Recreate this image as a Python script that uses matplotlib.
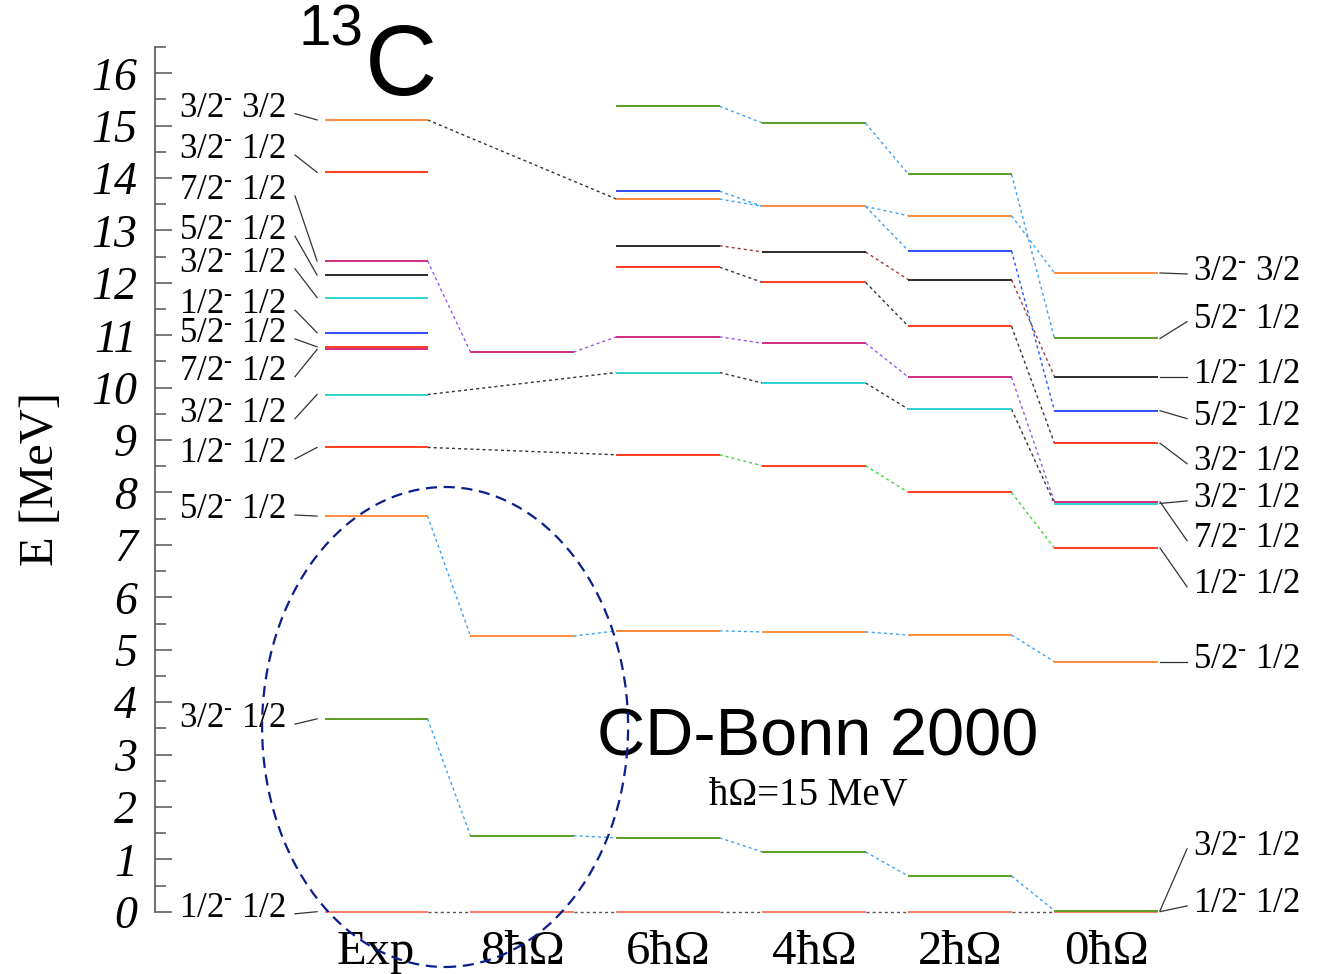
import numpy as np
import matplotlib
matplotlib.use('Agg')
import matplotlib.pyplot as plt
from matplotlib.patches import Ellipse

plt.rcParams['font.family'] = ['Liberation Serif', 'DejaVu Serif']
plt.rcParams['mathtext.fontset'] = 'custom'
plt.rcParams['mathtext.rm'] = 'Liberation Serif'
plt.rcParams['mathtext.it'] = 'Liberation Serif:italic'

# columns: experiment, then NCSM model spaces
columns = ['Exp', '8ħΩ', '6ħΩ', '4ħΩ', '2ħΩ', '0ħΩ']

# level energies [MeV] and colour keys, one pair of lists per column
exp_E = [15.11, 14.11, 12.42, 12.15, 11.72, 11.05, 10.78, 10.73, 9.87, 8.86, 7.55, 3.68, 0.0]
exp_c = ['orange', 'red', 'magenta', 'black', 'cyan', 'blue', 'red', 'magenta', 'cyan', 'red', 'orange', 'green', 'salmon']
n8_E = [10.68, 5.26, 1.45, 0.0]
n8_c = ['magenta', 'orange', 'green', 'salmon']
n6_E = [15.37, 13.75, 13.60, 12.71, 12.30, 10.97, 10.29, 8.72, 5.36, 1.41, 0.0]
n6_c = ['green', 'blue', 'orange', 'black', 'red', 'magenta', 'cyan', 'red', 'orange', 'green', 'salmon']
n4_E = [15.05, 13.46, 12.59, 12.01, 10.85, 10.09, 8.51, 5.34, 1.14, 0.0]
n4_c = ['green', 'orange', 'black', 'red', 'magenta', 'cyan', 'red', 'orange', 'green', 'salmon']
n2_E = [14.07, 13.28, 12.61, 12.06, 11.17, 10.20, 9.59, 8.00, 5.28, 0.68, 0.0]
n2_c = ['green', 'orange', 'blue', 'black', 'red', 'magenta', 'cyan', 'red', 'orange', 'green', 'salmon']
n0_E = [12.19, 10.94, 10.21, 9.56, 8.94, 7.82, 7.79, 6.94, 4.77, 0.02, 0.0]
n0_c = ['orange', 'green', 'black', 'blue', 'red', 'magenta', 'cyan', 'red', 'orange', 'green', 'salmon']

# J^pi and T labels for the experimental levels (left) and 0hw levels (right)
exp_J = ['3/2', '3/2', '7/2', '5/2', '3/2', '1/2', '5/2', '7/2', '3/2', '1/2', '5/2', '3/2', '1/2']
exp_T = ['3/2', '1/2', '1/2', '1/2', '1/2', '1/2', '1/2', '1/2', '1/2', '1/2', '1/2', '1/2', '1/2']
n0_J = ['3/2', '5/2', '1/2', '5/2', '3/2', '7/2', '3/2', '1/2', '5/2', '3/2', '1/2']
n0_T = ['3/2', '1/2', '1/2', '1/2', '1/2', '1/2', '1/2', '1/2', '1/2', '1/2', '1/2']

# correspondences: (column a, level a, column b, level b, link colour)
links = [
    (0, 0, 2, 2, 'k'), (0, 8, 2, 6, 'k'), (0, 9, 2, 7, 'k'),
    (0, 2, 1, 0, 'purple'), (0, 10, 1, 1, 'sky'), (0, 11, 1, 2, 'sky'), (0, 12, 1, 3, 'gray'),
    (1, 0, 2, 5, 'purple'), (1, 1, 2, 8, 'sky'), (1, 2, 2, 9, 'sky'), (1, 3, 2, 10, 'gray'),
    (2, 0, 3, 0, 'sky'), (2, 1, 3, 1, 'sky'), (2, 2, 3, 1, 'sky'), (2, 3, 3, 2, 'darkred'),
    (2, 4, 3, 3, 'k'), (2, 5, 3, 4, 'purple'), (2, 6, 3, 5, 'k'), (2, 7, 3, 6, 'green'),
    (2, 8, 3, 7, 'sky'), (2, 9, 3, 8, 'sky'), (2, 10, 3, 9, 'gray'),
    (3, 0, 4, 0, 'sky'), (3, 1, 4, 1, 'sky'), (3, 1, 4, 2, 'sky'), (3, 2, 4, 3, 'darkred'),
    (3, 3, 4, 4, 'k'), (3, 4, 4, 5, 'purple'), (3, 5, 4, 6, 'k'), (3, 6, 4, 7, 'green'),
    (3, 7, 4, 8, 'sky'), (3, 8, 4, 9, 'sky'), (3, 9, 4, 10, 'gray'),
    (4, 0, 5, 1, 'sky'), (4, 1, 5, 0, 'sky'), (4, 2, 5, 3, 'blue'), (4, 3, 5, 2, 'darkred'),
    (4, 4, 5, 4, 'k'), (4, 5, 5, 5, 'purple'), (4, 6, 5, 6, 'k'), (4, 7, 5, 7, 'green'),
    (4, 8, 5, 8, 'sky'), (4, 9, 5, 9, 'sky'), (4, 10, 5, 10, 'gray'),
]

# label baselines [MeV] (labels are spread out so they don't overlap)
exp_lab_y = [15.17, 14.38, 13.60, 12.83, 12.21, 11.42, 10.87, 10.15, 9.35, 8.58, 7.51, 3.52, -0.10]
n0_lab_y = [12.05, 11.14, 10.09, 9.29, 8.43, 6.96, 7.72, 6.08, 4.65, 1.08, -0.01]

yticks = list(range(17))

level_col = {'orange': '#ff8a3d', 'red': '#ff3b1f', 'green': '#5b9e22', 'blue': '#2f4dff',
             'black': '#2b2b2b', 'cyan': '#2ed3d3', 'magenta': '#d02e7e', 'salmon': '#ff7a66'}
link_col = {'sky': '#3fa3f5', 'purple': '#9a55ee', 'darkred': '#a03a3a', 'green': '#3dd63d',
            'k': '#333333', 'blue': '#2255ff', 'gray': '#555555'}

levels = [(exp_E, exp_c), (n8_E, n8_c), (n6_E, n6_c), (n4_E, n4_c), (n2_E, n2_c), (n0_E, n0_c)]
col_x = np.arange(len(columns))
hw = 0.353

fig = plt.figure(figsize=(13.18, 9.74), dpi=100)
ax = fig.add_axes([155 / 1318, 62.3 / 974, 1163 / 1318, 864.6 / 974])
ax.set_xlim(-1.514, 6.452)
ax.set_ylim(0, 16.5)

# levels, bottom first so upper ones sit on top
for x, (E, c) in zip(col_x, levels):
    for e, k in list(zip(E, c))[::-1]:
        ax.hlines(e, x - hw, x + hw, color=level_col[k], lw=1.4, clip_on=False, zorder=3)

for a, ia, b, ib, k in links:
    ax.plot([col_x[a] + hw, col_x[b] - hw], [levels[a][0][ia], levels[b][0][ib]],
            color=link_col[k], lw=1.0, ls=(0, (2.2, 2.2)), clip_on=False, zorder=2)

def jt(j, t):
    return j + r'$^{\text{-}}$ ' + t

# experimental labels with leader lines
for e, j, t, yl in zip(exp_E, exp_J, exp_T, exp_lab_y):
    ax.text(-0.616, yl, jt(j, t), fontsize=25, ha='right', va='baseline')
    ax.plot([-0.555, -0.404], [yl + 0.06, e], color='#333333', lw=0.9, clip_on=False)

# 0hw labels with leader lines
for e, j, t, yl in zip(n0_E, n0_J, n0_T, n0_lab_y):
    ax.text(5.596, yl, jt(j, t), fontsize=25, ha='left', va='baseline')
    ax.plot([5.37, 5.555], [e, yl + 0.12], color='#333333', lw=0.9, clip_on=False)

ax.add_patch(Ellipse((0.473, 3.525), 2.507, 9.16, fill=False, ec='#0b1f8c', lw=1.6,
                     ls=(0, (5, 3)), clip_on=False, zorder=4))

ax.text(3.027, 2.99, 'CD-Bonn 2000', family='Liberation Sans', fontsize=48, ha='center', va='baseline')
ax.text(2.959, 2.04, 'ħΩ=15 MeV', fontsize=28, ha='center', va='baseline')

for s in ['top', 'right', 'bottom']:
    ax.spines[s].set_visible(False)
ax.spines['left'].set_color('#555555')
ax.spines['left'].set_linewidth(1.2)

# y ticks; numbers written as italic texts next to the spine
ax.set_yticks(yticks, [''] * len(yticks))
ax.set_yticks(np.arange(0.5, 16.6, 1), minor=True)
ax.tick_params(axis='y', which='major', direction='in', length=12, width=1.1, color='#555555')
ax.tick_params(axis='y', which='minor', direction='in', length=8, width=1.1, color='#555555')
ytr = ax.get_yaxis_transform()
for v in yticks:
    ax.text(-0.0155, v, str(v), transform=ytr, family='Liberation Serif', style='italic',
            fontsize=33, ha='right', va='center_baseline', clip_on=False)

ax.set_xticks(col_x, columns)
ax.tick_params(axis='x', length=0, pad=13, labelsize=35)
ax.set_ylabel('E [MeV]', fontsize=35)
ax.yaxis.set_label_coords(-0.079, 0.5)

fig.text(365 / 1318, 1 - 95 / 974, 'C', family='Liberation Sans', fontsize=72, ha='left', va='baseline')
fig.text(363 / 1318, 1 - 45 / 974, '13', family='Liberation Sans', fontsize=42, ha='right', va='baseline')

fig.savefig('out.png', dpi=100)
